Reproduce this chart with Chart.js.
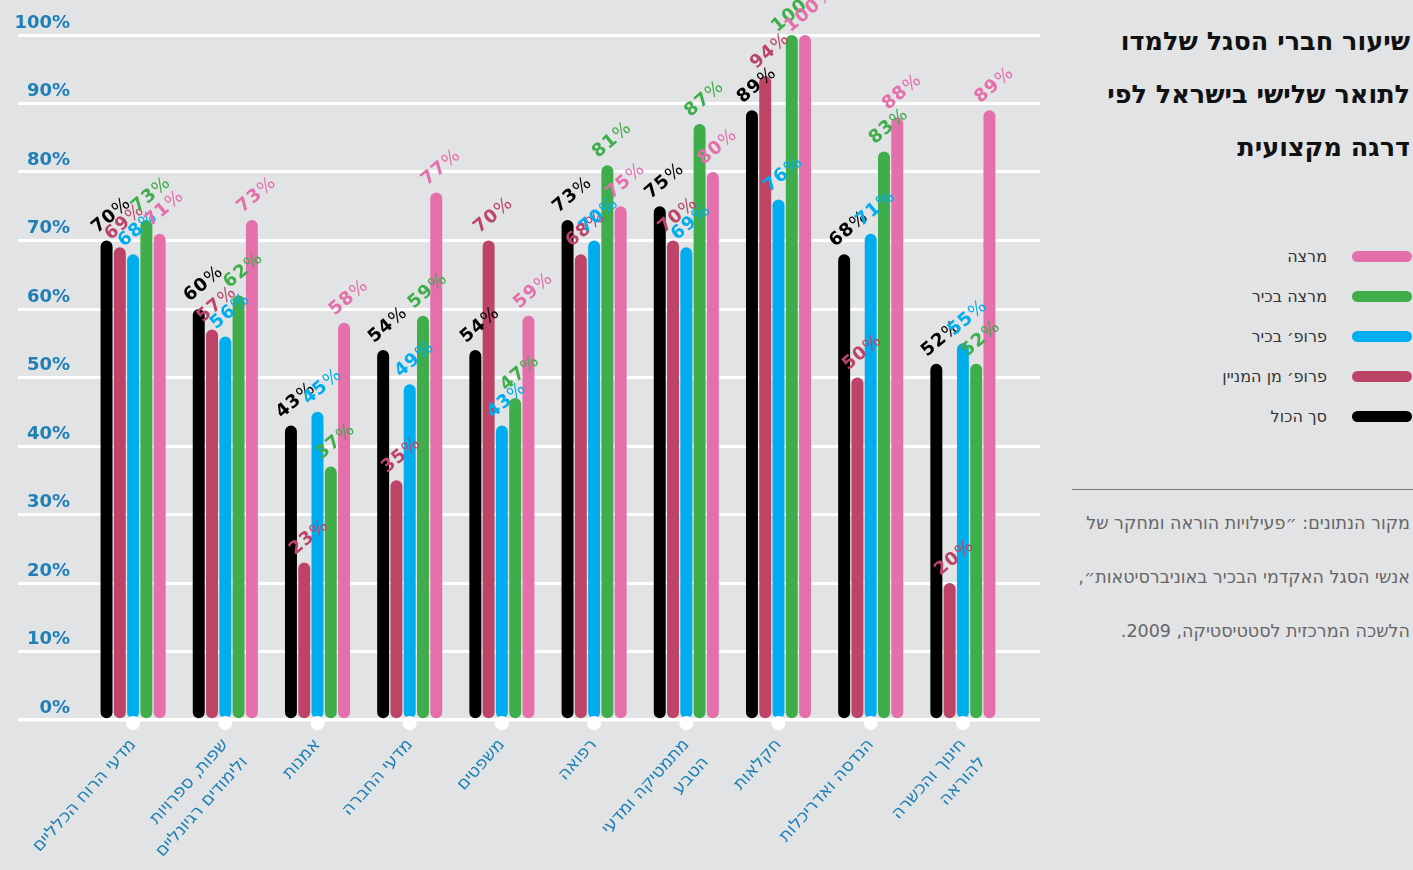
<!DOCTYPE html>
<html lang="he">
<head>
<meta charset="utf-8">
<title>שיעור חברי הסגל שלמדו לתואר שלישי בישראל</title>
<script src="https://cdn.jsdelivr.net/npm/chart.js@4.4.1/dist/chart.umd.min.js"></script>
<style>
  html, body { margin: 0; padding: 0; background: #e2e3e5; }
  body { width: 1413px; height: 870px; position: relative; overflow: hidden; font-family: "DejaVu Sans", sans-serif; }
  #chartWrap { position: absolute; left: 0; top: 0; width: 1045px; height: 870px; }
  #side { position: absolute; left: 1045px; top: 0; width: 368px; height: 870px; direction: rtl; }
  #title { position: absolute; right: 3px; top: 15px; margin: 0; font: bold 25.5px "DejaVu Sans", sans-serif; line-height: 53px; color: #111; text-align: right; }
  #legend { position: absolute; right: 1px; top: 236px; margin: 0; padding: 0; list-style: none; }
  #legend li { height: 40px; display: flex; align-items: center; justify-content: flex-start; font-size: 16px; color: #333; }
  #legend .sw { width: 60px; height: 11px; border-radius: 6px; margin-left: 25px; }
  #sep { position: absolute; left: 27px; right: 0; top: 489px; border-top: 1px solid #7a7a7a; }
  #source { position: absolute; right: 3px; top: 496px; margin: 0; font-size: 17.5px; line-height: 54px; color: #666; text-align: right; }
</style>
</head>
<body>
<div id="chartWrap"><canvas id="chart"></canvas></div>
<div id="side">
  <h1 id="title">שיעור חברי הסגל שלמדו<br>לתואר שלישי בישראל לפי<br>דרגה מקצועית</h1>
  <ul id="legend"></ul>
  <div id="sep"></div>
  <p id="source">מקור הנתונים: ״פעילויות הוראה ומחקר של<br>אנשי הסגל האקדמי הבכיר באוניברסיטאות״,<br>הלשכה המרכזית לסטטיסטיקה, 2009.</p>
</div>
<script>
// ---------- DATA ----------
const categories = [
  ["מדעי הרוח הכלליים"],
  ["שפות, ספרויות", "ולימודים רגיונליים"],
  ["אמנות"],
  ["מדעי החברה"],
  ["משפטים"],
  ["רפואה"],
  ["מתמטיקה ומדעי", "הטבע"],
  ["חקלאות"],
  ["הנדסה ואדריכלות"],
  ["חינוך והכשרה", "להוראה"],
];

const seriesNames = ["סך הכול", "פרופ׳ מן המניין", "פרופ׳  בכיר", "מרצה בכיר", "מרצה"];
const seriesColors = ["#000000", "#bd4467", "#00adee", "#3fad4a", "#e46fab"];

// percent of staff with a domestic PhD, per rank
const totalAll   = [70, 60, 43, 54, 54, 73, 75, 89, 68, 52];
const fullProf   = [69, 57, 23, 35, 70, 68, 70, 94, 50, 20];
const assocProf  = [68, 56, 45, 49, 43, 70, 69, 76, 71, 55];
const seniorLect = [73, 62, 37, 59, 47, 81, 87, 100, 83, 52];
const lecturer   = [71, 73, 58, 77, 59, 75, 80, 100, 88, 89];

const yTicks = [0, 10, 20, 30, 40, 50, 60, 70, 80, 90, 100];

const seriesData = [totalAll, fullProf, assocProf, seniorLect, lecturer];

// ---------- LEGEND (html, top to bottom = reverse series order) ----------
const legendEl = document.getElementById("legend");
for (let i = seriesNames.length - 1; i >= 0; i--) {
  const li = document.createElement("li");
  li.innerHTML = `<span class="sw" style="background:${seriesColors[i]}"></span><span>${seriesNames[i]}</span>`;
  legendEl.appendChild(li);
}

// ---------- PLUGINS ----------
// rotated "NN%" over each bar, number bold and the % sign light
const valueLabels = {
  id: "valueLabels",
  afterDatasetsDraw(chart) {
    const ctx = chart.ctx;
    ctx.save();
    chart.data.datasets.forEach((ds, di) => {
      chart.getDatasetMeta(di).data.forEach((bar, i) => {
        const num = String(ds.data[i]);
        ctx.save();
        ctx.translate(bar.x + 5, bar.y - 25);
        ctx.rotate(-0.7);
        ctx.textBaseline = "middle";
        ctx.textAlign = "left";
        ctx.letterSpacing = "1px";
        ctx.font = 'bold 18px "DejaVu Sans"';
        const wNum = ctx.measureText(num).width;
        ctx.font = '18px "DejaVu Sans"';
        const wPct = ctx.measureText("%").width;
        const x0 = -(wNum + wPct) / 2;
        ctx.fillStyle = ds.backgroundColor;
        ctx.font = 'bold 18px "DejaVu Sans"';
        ctx.fillText(num, x0, 0);
        ctx.font = '18px "DejaVu Sans"';
        ctx.fillText("%", x0 + wNum, 0);
        ctx.restore();
      });
    });
    ctx.restore();
  }
};

// white dots under each category on the base line
const axisDots = {
  id: "axisDots",
  afterDraw(chart) {
    const xs = chart.scales.x, ctx = chart.ctx;
    const y = chart.chartArea.bottom + 3;
    ctx.save();
    ctx.fillStyle = "#ffffff";
    categories.forEach((c, i) => {
      ctx.beginPath();
      ctx.arc(xs.getPixelForValue(i), y, 7, 0, Math.PI * 2);
      ctx.fill();
    });
    ctx.restore();
  }
};

const gridWidth = c => (c.tick && c.tick.value === 0 ? 3.5 : 3);

// ---------- CHART ----------
new Chart(document.getElementById("chart"), {
  type: "bar",
  data: {
    labels: categories,
    datasets: seriesNames.map((name, i) => ({
      label: name,
      data: seriesData[i],
      backgroundColor: seriesColors[i],
      borderRadius: 6,
      borderSkipped: false,
      categoryPercentage: 0.72,
      barPercentage: 0.9,
    })),
  },
  options: {
    responsive: true,
    maintainAspectRatio: false,
    animation: false,
    layout: { padding: { top: 35, right: 5, left: 0, bottom: 0 } },
    plugins: { legend: { display: false }, tooltip: { enabled: false } },
    scales: {
      x: {
        grid: { display: false, drawTicks: false },
        border: { display: false },
        ticks: {
          autoSkip: false, minRotation: 48, maxRotation: 48, padding: 13,
          color: "#1d80b5",
          font: { family: "DejaVu Sans", size: 17.5, lineHeight: 1.5 },
        },
        afterFit(s) { s.height = 150; },
      },
      y: {
        min: 0, max: 100,
        afterBuildTicks(s) { s.ticks = yTicks.map(v => ({ value: v })); },
        ticks: {
          callback: v => v + "%",
          color: "#1f7fb6",
          font: { family: "DejaVu Sans", size: 18, weight: "bold" },
          padding: -52,
          labelOffset: -12,
        },
        grid: { color: "#ffffff", lineWidth: gridWidth, drawTicks: true, tickLength: 69 },
        border: { display: false },
        afterFit(s) { s.width = 87; },
      },
      y2: {
        position: "right",
        min: 0, max: 100,
        afterBuildTicks(s) { s.ticks = yTicks.map(v => ({ value: v })); },
        ticks: { display: false },
        grid: { drawOnChartArea: false, color: "#ffffff", lineWidth: gridWidth, tickLength: 31 },
        border: { display: false },
        afterFit(s) { s.width = 31; },
      },
    },
  },
  plugins: [valueLabels, axisDots],
});
</script>
</body>
</html>
